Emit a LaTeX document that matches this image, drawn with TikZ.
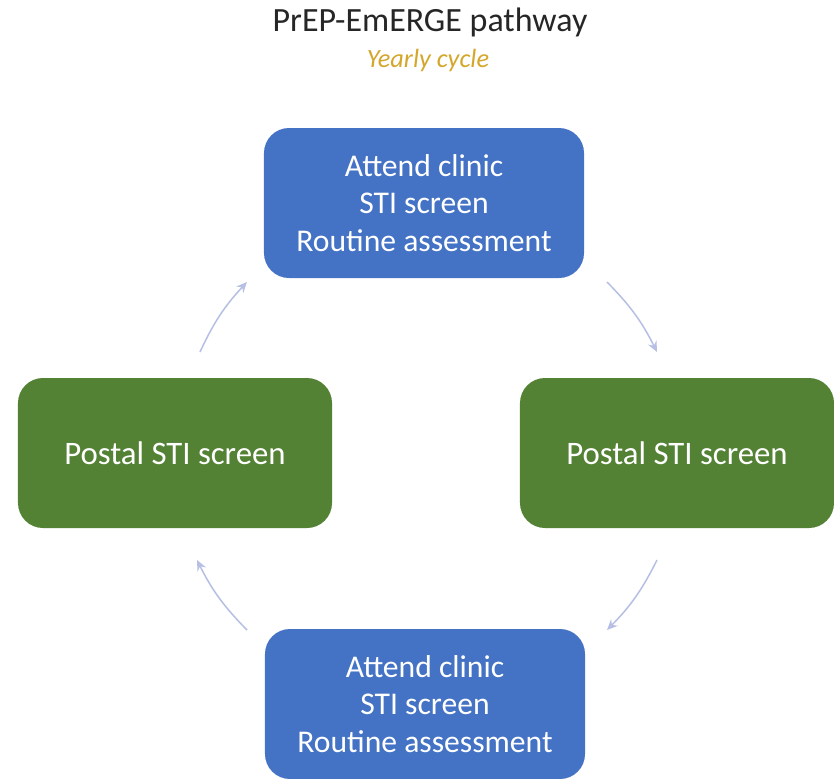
\documentclass[tikz,border=0pt]{standalone}
\usepackage{fontspec}
\setmainfont{Carlito}
\usetikzlibrary{arrows.meta,positioning}
\definecolor{visitblue}{HTML}{4472C4}
\definecolor{postgreen}{HTML}{548235}
\definecolor{cyclegold}{HTML}{D4A72C}
\definecolor{cyclearrow}{HTML}{B7C0E4}
\tikzset{
    visit/.style={rectangle,rounded corners=0.75cm,fill=visitblue,text=white,
        minimum width=9.6cm,minimum height=4.5cm,align=center,
        font=\fontsize{27}{32}\selectfont},
    postal/.style={visit,fill=postgreen,minimum width=9.42cm,font=\fontsize{28}{32}\selectfont},
    cyc/.style={draw=cyclearrow,line width=1.3pt,-{Stealth[length=9pt,width=8pt]},bend left=9},
}

\begin{document}
\begin{tikzpicture}[x=0.03cm,y=-0.03cm]
\useasboundingbox (0,0) rectangle (834,779);

\node[text=black!85] (title) at (430,22) {\fontsize{29}{34}\selectfont PrEP-EmERGE pathway};
\node[text=cyclegold] (sub) at (428,60) {\fontsize{22.5}{27}\selectfont\itshape Yearly cycle};

\node[visit] (top) at (424,203) {Attend clinic\\STI screen\\Routine assessment};
\node[postal] (lft) at (175,453) {Postal STI screen};
\node[postal] (rgt) at (677,453) {Postal STI screen};
\node[visit] (bot) at (425,704) {Attend clinic\\STI screen\\Routine assessment};

% arrow ends
\coordinate (a1) at (200,352); \coordinate (a2) at (247,282);
\coordinate (b1) at (607,282); \coordinate (b2) at (657,352);
\coordinate (c1) at (657,560); \coordinate (c2) at (607,630);
\coordinate (d1) at (247,630); \coordinate (d2) at (197,560);

\draw[cyc] (a1) to (a2);
\draw[cyc] (b1) to (b2);
\draw[cyc] (c1) to (c2);
\draw[cyc] (d1) to (d2);

\end{tikzpicture}
\end{document}
